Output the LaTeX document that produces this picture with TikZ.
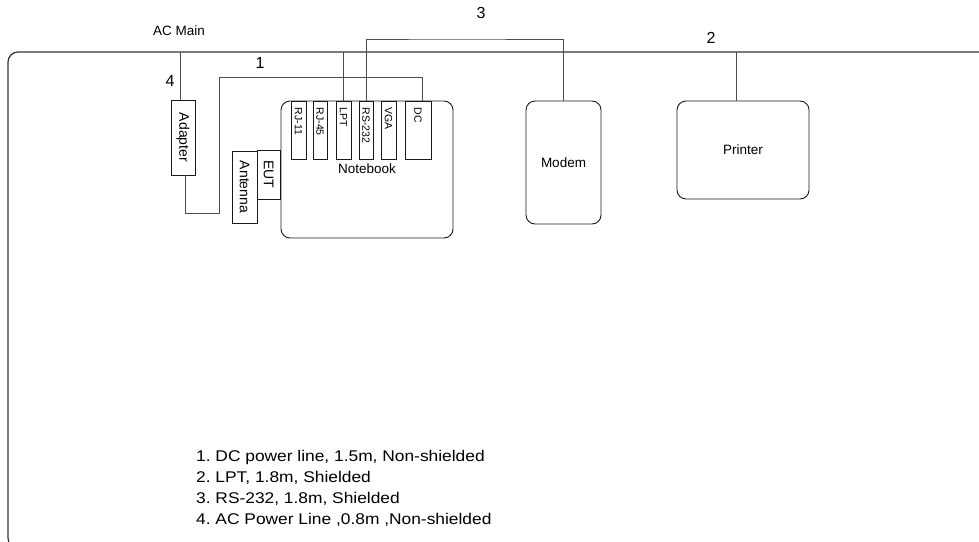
\documentclass[tikz,border=0pt]{standalone}
\usepackage{fontspec}
\setmainfont{Liberation Sans}
\newfontfamily\legfont{Liberation Sans}[FakeStretch=1.12]
\usetikzlibrary{calc}
\frenchspacing
\begin{document}
\begin{tikzpicture}[x=1pt,y=-1pt,
  box/.style={draw=black!90, line width=0.9pt, rectangle, inner sep=0pt},
  rbox/.style={box, rounded corners=9pt},
  portbox/.style={box, minimum height=58pt},
  wire/.style={draw=black!70, line width=0.9pt},
  frame/.style={draw=black!80, line width=1.2pt, rounded corners=10pt},
  num/.style={inner sep=0pt, font=\fontsize{16}{18}\selectfont},
  txt/.style={inner sep=0pt, font=\fontsize{13.5}{16}\selectfont},
  vtxt/.style={inner sep=0pt, rotate=-90, font=\fontsize{14}{16}\selectfont},
  ptxt/.style={inner sep=0pt, rotate=-90, anchor=west, font=\fontsize{10.5}{12}\selectfont},
  leg/.style={inner sep=0pt, anchor=west, font=\legfont\fontsize{15.5}{19}\selectfont}]
\useasboundingbox (0,0) rectangle (979,541);
\clip (0,0) rectangle (979,541);
% outer frame (its top edge is the AC main line)
\draw[frame] (8,52) rectangle (1010,548);
\coordinate (frametop) at (500,52);
% boxes
\node[box, minimum width=24pt, minimum height=75pt] (adapter) at (183,137.5) {};
\node[vtxt] (adaptertxt) at (adapter.center) {Adapter};
\node[box, minimum width=25pt, minimum height=72pt] (antenna) at (244.5,187) {};
\node[vtxt] (antennatxt) at (antenna.center) {Antenna};
\node[box, minimum width=23pt, minimum height=49pt] (eut) at (268.5,174.5) {};
\node[vtxt] (euttxt) at (eut.center) {EUT};
\node[rbox, minimum width=172pt, minimum height=137pt] (notebook) at (367,169.5) {};
\node[txt] (notebooktxt) at (367,169) {Notebook};
\node[portbox, minimum width=15pt] (rj11) at (298.5,130) {};
\node[portbox, minimum width=14pt] (rj45) at (320,130) {};
\node[portbox, minimum width=15pt] (lpt) at (343.5,130) {};
\node[portbox, minimum width=14pt] (rs232) at (366,130) {};
\node[portbox, minimum width=15pt] (vga) at (388.5,130) {};
\node[portbox, minimum width=26pt] (dc) at (418,130) {};
\node[ptxt] (rj11txt) at ($(rj11.north)+(0,7)$) {RJ-11};
\node[ptxt] (rj45txt) at ($(rj45.north)+(0,7)$) {RJ-45};
\node[ptxt] (lpttxt) at ($(lpt.north)+(0,7)$) {LPT};
\node[ptxt] (rs232txt) at ($(rs232.north)+(0,7)$) {RS-232};
\node[ptxt] (vgatxt) at ($(vga.north)+(0,7)$) {VGA};
\node[ptxt] (dctxt) at ($(dc.north)+(0,7)$) {DC};
\node[rbox, minimum width=75pt, minimum height=123pt] (modem) at (563.5,162.5) {};
\node[txt] (modemtxt) at (modem.center) {Modem};
\node[rbox, minimum width=132pt, minimum height=98pt] (printer) at (743,150) {};
\node[txt] (printertxt) at (printer.center) {Printer};
% cables
\coordinate (c1a) at (219,213);
\coordinate (c1b) at (219,77);
\coordinate (c3) at (450,39);
\draw[wire] ([xshift=-3pt]adapter.north) -- ([xshift=-3pt]adapter.north |- frametop);
\draw[wire] ([xshift=2pt]adapter.south) |- (c1a) -- (c1b) -| ([xshift=4pt]dc.north);
\draw[wire] (lpt.north) -- (lpt.north |- frametop);
\draw[wire] (rs232.north) |- (c3) -| (modem.north);
\draw[wire] ([xshift=-7pt]printer.north) -- ([xshift=-7pt]printer.north |- frametop);
% labels
\node[txt] (acmain) at (179,31) {AC Main};
\node[num] (n4) at (170,81) {4};
\node[num] (n1) at (260,63) {1};
\node[num] (n3) at (481,13) {3};
\node[num] (n2) at (711,38) {2};
% legend
\node[leg] (leg1) at (196,457) {1. DC power line, 1.5m, Non-shielded};
\node[leg] (leg2) at (196,478) {2. LPT, 1.8m, Shielded};
\node[leg] (leg3) at (196,499) {3. RS-232, 1.8m, Shielded};
\node[leg] (leg4) at (196,520) {4. AC Power Line ,0.8m ,Non-shielded};
\end{tikzpicture}
\end{document}
